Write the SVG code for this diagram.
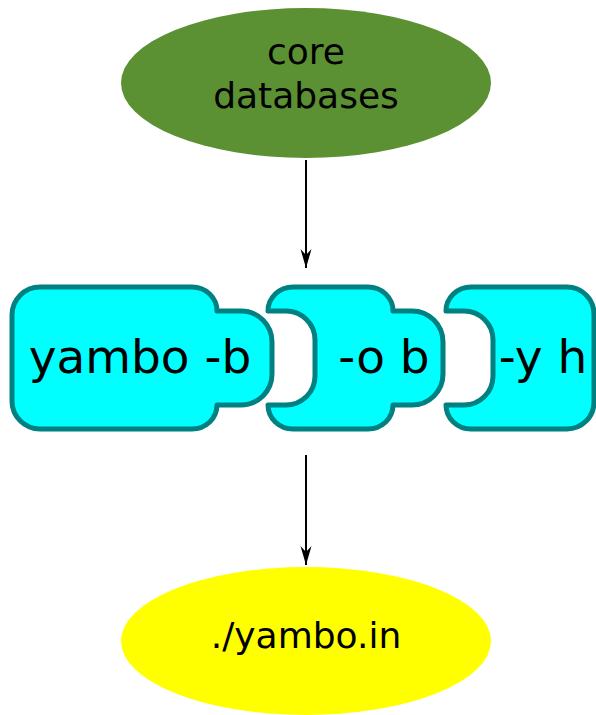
<svg xmlns="http://www.w3.org/2000/svg" width="596" height="715" viewBox="0 0 596 715">
  <style>
    .lbl { font-family: "DejaVu Sans", "Liberation Sans", sans-serif; fill: #000; text-anchor: middle; }
    .ell { font-size: 36px; }
    .pc  { font-size: 47px; }
    .piece { fill: #00ffff; stroke: #008080; stroke-width: 5; stroke-linejoin: round; }
    .edge { stroke: #000; stroke-width: 2; fill: none; }
  </style>
  <defs>
    <marker id="head" markerUnits="userSpaceOnUse" markerWidth="20" markerHeight="12" refX="19" refY="6" orient="auto" viewBox="0 0 20 12">
      <path d="M19,6 L0,0.5 L6,6 L0,11.5 Z" fill="#000"/>
    </marker>
  </defs>

  <!-- source databases -->
  <g id="core-databases">
    <ellipse cx="306" cy="83" rx="185" ry="75" fill="#5b9132"/>
    <text class="lbl ell" x="306" y="64">core</text>
    <text class="lbl ell" x="306" y="108">databases</text>
  </g>

  <!-- command pieces: tab on the right, socket on the left -->
  <g id="yambo-b">
    <path class="piece" d="M40,287 H192 A25,24 0 0 1 217,311 H241 A31,31 0 0 1 272,342 V374 A31,31 0 0 1 241,405 H217 A25,24 0 0 1 192,429 H40 A28,28 0 0 1 12,401 V315 A28,28 0 0 1 40,287 Z"/>
    <text class="lbl pc" x="140" y="373">yambo -b</text>
  </g>
  <g id="opt-o-b">
    <path class="piece" d="M268,311 A25,24 0 0 1 293,287 H368 A25,24 0 0 1 393,311 H412 A31,31 0 0 1 443,342 V374 A31,31 0 0 1 412,405 H393 A25,24 0 0 1 368,429 H293 A25,24 0 0 1 268,405 H286 A29,29 0 0 0 315,376 V340 A29,29 0 0 0 286,311 Z"/>
    <text class="lbl pc" x="384" y="373">-o b</text>
  </g>
  <g id="opt-y-h">
    <path class="piece" d="M446,311 A25,24 0 0 1 471,287 H567 A27,27 0 0 1 594,314 V402 A27,27 0 0 1 567,429 H471 A25,24 0 0 1 446,405 H464 A29,29 0 0 0 493,376 V340 A29,29 0 0 0 464,311 Z"/>
    <text class="lbl pc" x="543" y="373">-y h</text>
  </g>

  <!-- generated input file -->
  <g id="yambo-in">
    <ellipse cx="306" cy="641" rx="185" ry="74" fill="#ffff00"/>
    <text class="lbl ell" x="306" y="648">./yambo.in</text>
  </g>

  <g id="connectors">
    <line class="edge" x1="306" y1="160" x2="306" y2="268" marker-end="url(#head)"/>
    <line class="edge" x1="306" y1="455" x2="306" y2="565" marker-end="url(#head)"/>
  </g>
</svg>
